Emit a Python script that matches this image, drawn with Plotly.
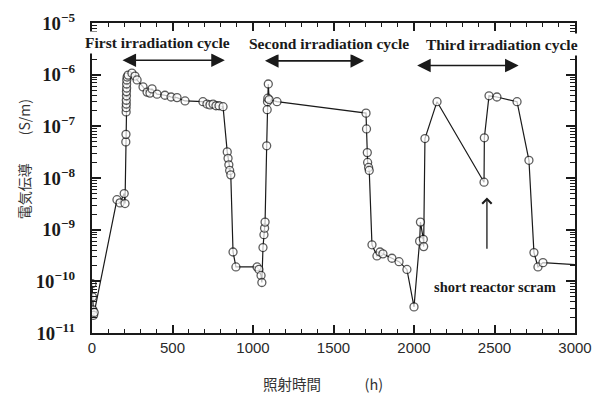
import numpy as np
import plotly.graph_objects as go

# Irradiation time (h) and electrical conductivity (S/m)
time_h = [
    0, 3, 6, 10, 14,
    155, 174, 200, 205,
    210, 211, 212, 212, 213, 213, 214, 214, 215, 215, 216, 218,
    224, 248, 267, 280, 317, 342, 360, 373, 404, 453, 491, 528, 578,
    689, 714, 733, 752, 770, 789, 814,
    840, 845, 850, 855, 862, 876, 894,
    1025, 1037, 1050, 1055, 1062, 1068, 1072, 1075,
    1085, 1088, 1090, 1092, 1095, 1100, 1149,
    1702, 1705, 1710, 1712, 1718, 1722,
    1739, 1770, 1789, 1807, 1863, 1907, 1956, 2000,
    2035, 2040, 2058, 2060,
    2068, 2143, 2435, 2437, 2466, 2515, 2640, 2714, 2745, 2770, 2801, 3000,
]
conductivity = [
    9e-11, 5e-11, 2.8e-11, 2.2e-11, 2.5e-11,
    3.8e-9, 3.3e-9, 5e-9, 3.2e-9,
    5e-8, 7e-8, 1.9e-7, 2.3e-7, 2.7e-7, 3.2e-7, 3.9e-7, 4.7e-7, 5.5e-7, 6.6e-7, 7.9e-7, 9e-7,
    9.8e-7, 1.07e-6, 9.4e-7, 7.9e-7, 5.8e-7, 4.6e-7, 4.4e-7, 5.3e-7, 4.2e-7, 4e-7, 3.7e-7, 3.6e-7, 3.1e-7,
    3e-7, 2.7e-7, 2.6e-7, 2.7e-7, 2.5e-7, 2.5e-7, 2.4e-7,
    3.2e-8, 2.4e-8, 1.8e-8, 1.4e-8, 1.15e-8, 3.7e-10, 1.9e-10,
    1.9e-10, 1.7e-10, 1.3e-10, 9.5e-11, 4.5e-10, 8e-10, 1.07e-9, 1.4e-9,
    4.2e-8, 2.1e-7, 3e-7, 3.5e-7, 6.6e-7, 3.3e-7, 3e-7,
    1.8e-7, 8.9e-8, 3.1e-8, 2e-8, 1.6e-8, 1.4e-8,
    5.1e-10, 3.1e-10, 3.7e-10, 3.4e-10, 2.8e-10, 2.4e-10, 1.7e-10, 3.2e-11,
    6e-10, 1.4e-9, 6.5e-10, 4.7e-10,
    5.8e-8, 3e-7, 8.3e-9, 6e-8, 3.9e-7, 3.7e-7, 3e-7, 2.2e-8, 3.6e-10, 1.9e-10, 2.3e-10, 2.1e-10,
]
# the final reading closes the line at the axis edge without a marker
marker_sizes = [8] * (len(time_h) - 1) + [0]

x_range = [0, 3000]
y_log_range = [-11, -5]

# Irradiation cycle spans (h) and their labels
cycle_labels = ["First irradiation cycle", "Second irradiation cycle", "Third irradiation cycle"]
cycle_start = [180, 1065, 2010]
cycle_end = [825, 1690, 2650]
cycle_arrow_y = [1.9e-6, 1.85e-6, 1.5e-6]
cycle_label_x = [405, 1470, 2545]
cycle_label_y = [4.2e-6, 4.0e-6, 3.8e-6]

scram_time = 2453
scram_head = 4.2e-9
scram_tail = 4.0e-10

ink = "#1a1a1a"
serif = "Liberation Serif"

fig = go.Figure()
fig.add_trace(go.Scatter(
    x=time_h, y=conductivity, mode="lines+markers",
    line=dict(color=ink, width=1.2),
    marker=dict(symbol="circle", size=marker_sizes, color="white",
                line=dict(color=ink, width=1.3)),
    showlegend=False,
))

annotations = []
for lab, s, e, ya, lx, ly in zip(cycle_labels, cycle_start, cycle_end, cycle_arrow_y,
                                  cycle_label_x, cycle_label_y):
    annotations.append(dict(
        x=e, y=np.log10(ya), ax=s, ay=np.log10(ya), xref="x", yref="y",
        axref="x", ayref="y", text="", showarrow=True,
        arrowhead=2, startarrowhead=2, arrowside="end+start",
        arrowsize=1.7, startarrowsize=1.7, arrowwidth=1.6, arrowcolor=ink,
    ))
    annotations.append(dict(
        x=lx, y=np.log10(ly), xref="x", yref="y", text="<b>" + lab + "</b>",
        showarrow=False, font=dict(family=serif, size=15.5, color=ink),
        bgcolor="white", borderpad=2,
    ))

annotations.append(dict(
    x=scram_time, y=np.log10(scram_head), ax=scram_time, ay=np.log10(scram_tail),
    xref="x", yref="y", axref="x", ayref="y", text="", showarrow=True,
    arrowhead=4, arrowsize=1.4, arrowwidth=1.3, arrowcolor=ink,
))
annotations.append(dict(
    x=2500, y=np.log10(7.7e-11), xref="x", yref="y",
    text="<b>short reactor scram</b>", showarrow=False,
    font=dict(family=serif, size=14.5, color=ink),
))
annotations.append(dict(
    x=-0.139, y=0.56, xref="paper", yref="paper", textangle=-90,
    xanchor="center", yanchor="middle",
    text="電気伝導　　(S/m)", showarrow=False,
    font=dict(family="Noto Sans CJK JP", size=14, color="#333333"),
))
annotations.append(dict(
    x=0.478, y=-0.162, xref="paper", yref="paper",
    xanchor="center", yanchor="middle",
    text="照射時間　　　(h)", showarrow=False,
    font=dict(family="Noto Sans CJK JP", size=14.5, color="#333333"),
))

fig.update_layout(
    width=603, height=399,
    margin=dict(l=92, r=28, t=23, b=66, autoexpand=False),
    plot_bgcolor="white", paper_bgcolor="white",
    annotations=annotations,
    xaxis=dict(
        range=x_range, dtick=500,
        ticks="inside", ticklen=8, tickwidth=1.6, tickcolor=ink,
        minor=dict(ticks="inside", ticklen=4, tickwidth=1.2, tickcolor=ink, dtick=100),
        showline=True, linecolor=ink, linewidth=2, mirror="allticks",
        showgrid=False, zeroline=False,
        tickfont=dict(family="Liberation Sans", size=15, color="#2a2a2a"),
    ),
    yaxis=dict(
        type="log", range=y_log_range, dtick=1, exponentformat="power", showexponent="all",
        ticks="inside", ticklen=9, tickwidth=1.6, tickcolor=ink,
        minor=dict(ticks="inside", ticklen=5, tickwidth=1.2, tickcolor=ink),
        showline=True, linecolor=ink, linewidth=2, mirror="allticks",
        showgrid=False, zeroline=False, ticklabelstandoff=12,
        tickfont=dict(family=serif, size=15, color=ink, weight="bold"),
    ),
)

fig.write_html("out.html")
